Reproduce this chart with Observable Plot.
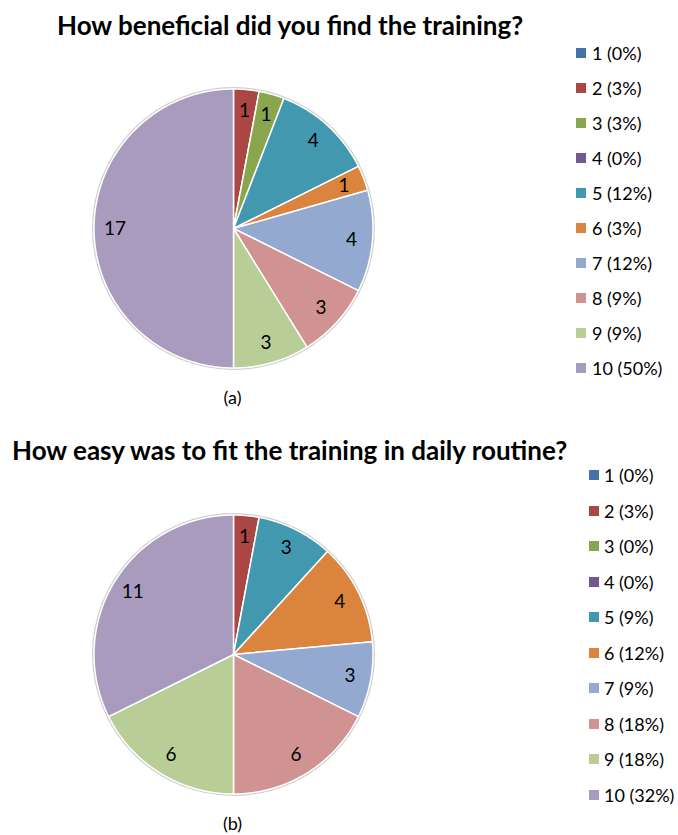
<!DOCTYPE html>
<html><head><meta charset="utf-8">
<script src="https://cdn.jsdelivr.net/npm/d3@7"></script>
<script src="https://cdn.jsdelivr.net/npm/@observablehq/plot@0.6"></script>
<style>
body{margin:0;background:#fff;}
#page{position:relative;width:678px;height:835px;font-family:Lato, "Open Sans", sans-serif;color:#000;overflow:hidden;}
.abs{position:absolute;white-space:nowrap;transform:translateY(-50%);}
.title{font-weight:700;font-size:26px;line-height:30px;}
.leg{font-size:18px;line-height:22px;}
.cap{font-size:18px;line-height:22px;transform:translate(-50%,-50%);}
.sw{position:absolute;width:10px;height:10px;transform:translateY(-50%);}
.pie{position:absolute;}
</style></head><body><div id="page"></div>
<script>
// ---- data ----
const categories = ["1","2","3","4","5","6","7","8","9","10"];
const sliceColors = ["#4572A7","#AA4643","#89A54E","#71588F","#4198AF","#DB843D","#93A9CF","#D19392","#B9CD96","#A99BBD"];
const countsA = [0,1,1,0,4,1,4,3,3,17];
const countsB = [0,1,0,0,3,4,3,6,6,11];
const titleA = "How beneficial did you find the training?";
const titleB = "How easy was to fit the training in daily routine?";
const captionA = "(a)";
const captionB = "(b)";

// ---- layout ----
const layoutA = {titleX:57, titleY:25, cx:232.5, cy:227.5, r:139.5, legSwX:576, legTextX:592, legY0:53, legDY:35, capY:397};
const layoutB = {titleX:12, titleY:450, cx:232.5, cy:653.5, r:139.5, legSwX:589, legTextX:604, legY0:475, legDY:35.5, capY:823};

const page = document.getElementById("page");

function addDiv(cls, text, x, y) {
  const d = document.createElement("div");
  d.className = "abs " + cls;
  d.textContent = text;
  d.style.left = x + "px";
  d.style.top = y + "px";
  page.appendChild(d);
  return d;
}

function drawChart(counts, title, caption, L) {
  const total = d3.sum(counts);
  addDiv("title", title, L.titleX, L.titleY);
  const arcs = d3.pie().sort(null).value(d => d)(counts);
  const pts = [];
  const labels = [];
  arcs.forEach((a, i) => {
    if (counts[i] <= 0) return;
    const n = Math.max(2, Math.ceil((a.endAngle - a.startAngle) / (Math.PI / 180)));
    pts.push({key: i, x: 0, y: 0, color: sliceColors[i]});
    for (let k = 0; k <= n; k++) {
      const t = a.startAngle + (a.endAngle - a.startAngle) * k / n;
      pts.push({key: i, x: Math.sin(t), y: Math.cos(t), color: sliceColors[i]});
    }
    pts.push({key: i, x: 0, y: 0, color: sliceColors[i]});
    const m = (a.startAngle + a.endAngle) / 2;
    labels.push({x: 0.85 * Math.sin(m), y: 0.85 * Math.cos(m), text: String(counts[i])});
  });
  const S = 300, D = S / 2 / L.r;
  const svg = Plot.plot({
    width: S, height: S, margin: 0,
    x: {domain: [-D, D], axis: null},
    y: {domain: [-D, D], axis: null},
    color: {type: "identity"},
    style: {background: "transparent", overflow: "visible"},
    marks: [
      Plot.dot([{x: 0, y: 0}], {x: "x", y: "y", r: L.r + 1, stroke: "#cfcfcf", strokeWidth: 2, fill: "none"}),
      Plot.line(pts, {x: "x", y: "y", z: "key", fill: "color", stroke: "white", strokeWidth: 1.5, strokeLinejoin: "round"}),
      Plot.text(labels, {x: "x", y: "y", text: "text", fontSize: 19, fontFamily: "Lato", fill: "black"})
    ]
  });
  const wrap = document.createElement("div");
  wrap.className = "pie";
  wrap.style.left = (L.cx - S / 2) + "px";
  wrap.style.top = (L.cy - S / 2) + "px";
  wrap.appendChild(svg);
  page.appendChild(wrap);

  categories.forEach((c, i) => {
    const y = L.legY0 + i * L.legDY;
    const sw = document.createElement("div");
    sw.className = "sw";
    sw.style.left = L.legSwX + "px";
    sw.style.top = y + "px";
    sw.style.background = sliceColors[i];
    page.appendChild(sw);
    addDiv("leg", `${c} (${Math.round(100 * counts[i] / total)}%)`, L.legTextX, y);
  });
  addDiv("cap", caption, L.cx, L.capY);
}

drawChart(countsA, titleA, captionA, layoutA);
drawChart(countsB, titleB, captionB, layoutB);
</script>
</body></html>
